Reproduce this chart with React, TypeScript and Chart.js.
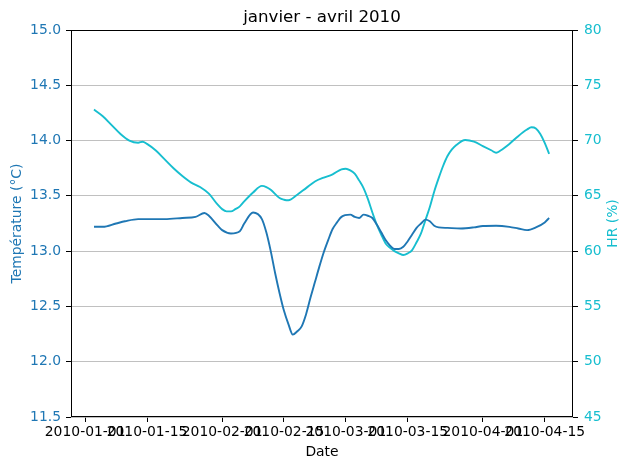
import React, { useEffect, useRef } from "react";
import { Chart, registerables } from "chart.js";

Chart.register(...registerables);

const chartTitle = "janvier - avril 2010";
const leftTitle = "Température (°C)";
const rightTitle = "HR (%)";
const xTitle = "Date";
const xTickLabels = ["2010-01-01", "2010-01-15", "2010-02-01", "2010-02-15", "2010-03-01", "2010-03-15", "2010-04-01", "2010-04-15"];

const tempDates = [
  "2010-01-03", "2010-01-05", "2010-01-08", "2010-01-10", "2010-01-13", "2010-01-16", "2010-01-19", "2010-01-23",
  "2010-01-26", "2010-01-28", "2010-01-29", "2010-01-31", "2010-02-01", "2010-02-03", "2010-02-05", "2010-02-06",
  "2010-02-08", "2010-02-10", "2010-02-11", "2010-02-12", "2010-02-13", "2010-02-14", "2010-02-15", "2010-02-16",
  "2010-02-17", "2010-02-18", "2010-02-19", "2010-02-20", "2010-02-21", "2010-02-22", "2010-02-23", "2010-02-24",
  "2010-02-25", "2010-02-26", "2010-02-27", "2010-02-28", "2010-03-02", "2010-03-03", "2010-03-04", "2010-03-05",
  "2010-03-06", "2010-03-07", "2010-03-08", "2010-03-09", "2010-03-10", "2010-03-11", "2010-03-12", "2010-03-13",
  "2010-03-14", "2010-03-15", "2010-03-16", "2010-03-17", "2010-03-18", "2010-03-19", "2010-03-20", "2010-03-21",
  "2010-03-22", "2010-03-24", "2010-03-27", "2010-03-30", "2010-04-01", "2010-04-04", "2010-04-07", "2010-04-09",
  "2010-04-11", "2010-04-13", "2010-04-15", "2010-04-16",
];
const tempValues = [
  13.22, 13.22, 13.25, 13.27, 13.29, 13.29, 13.29, 13.3,
  13.31, 13.345, 13.32, 13.23, 13.19, 13.16, 13.18, 13.25,
  13.35, 13.29, 13.17, 13.0, 12.8, 12.62, 12.46, 12.34,
  12.245, 12.275, 12.32, 12.43, 12.58, 12.72, 12.86, 12.99,
  13.1, 13.2, 13.26, 13.31, 13.33, 13.31, 13.3, 13.33,
  13.32, 13.3, 13.24, 13.17, 13.1, 13.05, 13.02, 13.02,
  13.04, 13.09, 13.15, 13.21, 13.25, 13.285, 13.27, 13.23,
  13.215, 13.21, 13.205, 13.215, 13.227, 13.23, 13.22, 13.205,
  13.19, 13.215, 13.26, 13.3,
];

const hrDates = [
  "2010-01-03", "2010-01-05", "2010-01-07", "2010-01-09", "2010-01-11", "2010-01-13", "2010-01-14", "2010-01-15",
  "2010-01-17", "2010-01-19", "2010-01-21", "2010-01-23", "2010-01-25", "2010-01-27", "2010-01-29", "2010-01-31",
  "2010-02-01", "2010-02-02", "2010-02-03", "2010-02-04", "2010-02-05", "2010-02-06", "2010-02-08", "2010-02-10",
  "2010-02-11", "2010-02-12", "2010-02-14", "2010-02-15", "2010-02-16", "2010-02-18", "2010-02-20", "2010-02-22",
  "2010-02-24", "2010-02-26", "2010-02-28", "2010-03-01", "2010-03-02", "2010-03-03", "2010-03-04", "2010-03-05",
  "2010-03-06", "2010-03-07", "2010-03-08", "2010-03-09", "2010-03-10", "2010-03-11", "2010-03-12", "2010-03-13",
  "2010-03-14", "2010-03-15", "2010-03-16", "2010-03-17", "2010-03-18", "2010-03-19", "2010-03-20", "2010-03-21",
  "2010-03-22", "2010-03-23", "2010-03-24", "2010-03-25", "2010-03-26", "2010-03-28", "2010-03-30", "2010-04-01",
  "2010-04-03", "2010-04-04", "2010-04-05", "2010-04-07", "2010-04-09", "2010-04-11", "2010-04-12", "2010-04-13",
  "2010-04-14", "2010-04-15", "2010-04-16",
];
const hrValues = [
  72.8, 72.2, 71.4, 70.6, 70.0, 69.8, 69.9, 69.7,
  69.1, 68.3, 67.5, 66.8, 66.2, 65.8, 65.2, 64.2,
  63.8, 63.6, 63.6, 63.8, 64.05, 64.5, 65.3, 65.9,
  65.8, 65.55, 64.8, 64.65, 64.6, 65.1, 65.7, 66.3,
  66.65, 66.95, 67.4, 67.45, 67.3, 67.0, 66.4, 65.7,
  64.7, 63.5, 62.4, 61.5, 60.7, 60.3, 60.0, 59.8,
  59.65, 59.8, 60.1, 60.8, 61.6, 62.8, 64.0, 65.4,
  66.6, 67.7, 68.6, 69.2, 69.6, 70.05, 69.9, 69.5,
  69.1, 68.9, 69.1, 69.7, 70.4, 71.0, 71.2, 71.1,
  70.6, 69.8, 68.8,
];

const TEMP_COLOR = "#1f77b4";
const HR_COLOR = "#17becf";
const FONT = "DejaVu Sans";

const dayOf = (s: string) => {
  const [y, m, d] = s.split("-").map(Number);
  return (Date.UTC(y, m - 1, d) - Date.UTC(2010, 0, 1)) / 86400000;
};

export default function App() {
  const ref = useRef<HTMLCanvasElement | null>(null);

  useEffect(() => {
    document.body.style.margin = "0";
    if (!ref.current) return;
    const tickDays = xTickLabels.map(dayOf);
    const framePlugin = {
      id: "frame",
      afterDraw(chart: any) {
        const { ctx, chartArea } = chart;
        ctx.save();
        ctx.strokeStyle = "#000";
        ctx.lineWidth = 1;
        const l = Math.round(chartArea.left) + 0.5;
        const t = Math.round(chartArea.top) + 0.5;
        const r = Math.round(chartArea.right) - 0.5;
        const b = Math.round(chartArea.bottom) - 0.5;
        ctx.strokeRect(l, t, r - l, b - t);
        ctx.fillStyle = "#000";
        ctx.font = `16.7px '${FONT}'`;
        ctx.textAlign = "center";
        ctx.textBaseline = "alphabetic";
        ctx.fillText(chartTitle, (chartArea.left + chartArea.right) / 2, 22);
        ctx.font = `13.9px '${FONT}'`;
        ctx.fillStyle = HR_COLOR;
        ctx.textBaseline = "middle";
        ctx.translate(613, (chartArea.top + chartArea.bottom) / 2);
        ctx.rotate(-Math.PI / 2);
        ctx.fillText(rightTitle, 0, 0);
        ctx.restore();
      },
    };
    const chart = new Chart(ref.current, {
      type: "line",
      data: {
        datasets: [
          {
            label: "Température",
            data: tempDates.map((d, i) => ({ x: dayOf(d), y: tempValues[i] })),
            borderColor: TEMP_COLOR,
            borderWidth: 1.9,
            pointRadius: 0,
            tension: 0.4,
            cubicInterpolationMode: "monotone",
            yAxisID: "y",
          },
          {
            label: "HR",
            data: hrDates.map((d, i) => ({ x: dayOf(d), y: hrValues[i] })),
            borderColor: HR_COLOR,
            borderWidth: 1.9,
            pointRadius: 0,
            tension: 0.4,
            cubicInterpolationMode: "monotone",
            yAxisID: "y1",
          },
        ],
      },
      options: {
        animation: false,
        responsive: false,
        devicePixelRatio: 1,
        layout: { padding: { top: 30, left: 0, right: 0, bottom: 0 } },
        plugins: { legend: { display: false }, tooltip: { enabled: false }, title: { display: false } },
        font: { family: FONT },
        scales: {
          x: {
            type: "linear",
            min: -3.2,
            max: 110.4,
            afterBuildTicks: (scale: any) => {
              scale.ticks = tickDays.map((v) => ({ value: v }));
            },
            afterFit: (scale: any) => {
              scale.height = 53;
            },
            ticks: {
              autoSkip: false,
              maxRotation: 0,
              minRotation: 0,
              padding: 2,
              color: "#000",
              font: { family: FONT, size: 13.9 },
              callback: (v: any) => {
                const i = tickDays.indexOf(Number(v));
                return i >= 0 ? xTickLabels[i] : "";
              },
            },
            grid: { drawOnChartArea: false, tickLength: 5, tickColor: "#000", tickWidth: 1 },
            border: { display: false },
            title: {
              display: true,
              text: xTitle,
              color: "#000",
              font: { family: FONT, size: 13.9 },
              padding: { top: 0, bottom: 9.7 },
            },
          },
          y: {
            position: "left",
            min: 11.5,
            max: 15,
            afterFit: (scale: any) => {
              scale.width = 71;
            },
            ticks: {
              stepSize: 0.5,
              padding: 5,
              color: TEMP_COLOR,
              font: { family: FONT, size: 13.9 },
              callback: (v: any) => Number(v).toFixed(1),
            },
            grid: { color: "#b0b0b0", lineWidth: 0.8, tickLength: 5, tickColor: "#000", tickWidth: 1 },
            border: { display: false },
            title: {
              display: true,
              text: leftTitle,
              color: TEMP_COLOR,
              font: { family: FONT, size: 13.9 },
              padding: { top: 8.7, bottom: 0 },
            },
          },
          y1: {
            position: "right",
            min: 45,
            max: 80,
            afterFit: (scale: any) => {
              scale.width = 57;
            },
            ticks: {
              stepSize: 5,
              padding: 6,
              color: HR_COLOR,
              font: { family: FONT, size: 13.9 },
            },
            grid: { drawOnChartArea: false, tickLength: 5, tickColor: "#000", tickWidth: 1 },
            border: { display: false },
            title: { display: false },
          },
        },
      },
      plugins: [framePlugin],
    } as any);
    return () => chart.destroy();
  }, []);

  return (
    <div style={{ width: 630, height: 470 }}>
      <canvas ref={ref} width={630} height={470} style={{ width: 630, height: 470, display: "block" }} />
    </div>
  );
}
